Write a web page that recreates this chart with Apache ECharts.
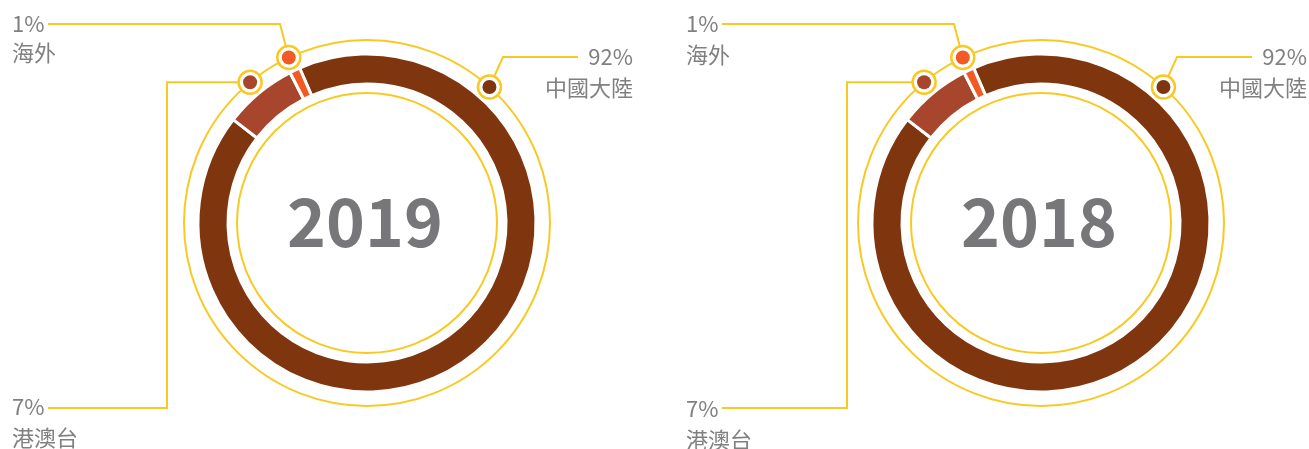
<!DOCTYPE html>
<html>
<head>
<meta charset="utf-8">
<script src="https://cdn.jsdelivr.net/npm/echarts@6/dist/echarts.min.js"></script>
<style>html,body{margin:0;padding:0;background:#fff}#c{width:1309px;height:449px}</style>
</head>
<body>
<div id="c"></div>
<script>
const categories = ['中國大陸', '港澳台', '海外'];
const years = ['2019', '2018'];
const values2019 = [92, 7, 1];
const values2018 = [92, 7, 1];

const colors = ['#7f360e', '#a7462c', '#f15a24'];
const yellow = '#f9c923';
const gray = '#808080';
const cjk = '"Noto Sans CJK TC", "Noto Sans", sans-serif';

const chart = echarts.init(document.getElementById('c'));

const layouts = [
  { cx: 367, cy: 223, dx: 0, dy: 0, vx: 167 },
  { cx: 1041, cy: 223, dx: 674, dy: 2, vx: 847 }
];
const startAngle = 113.5;
const rIn = 139, rOut = 169, rYIn = 130, rYOut = 183;
const mainlandAngle = 48;

const series = [];
const graphic = [];

[values2019, values2018].forEach((vals, k) => {
  const L = layouts[k];
  series.push({
    type: 'pie',
    center: [L.cx, L.cy],
    radius: [rIn, rOut],
    startAngle: startAngle,
    clockwise: true,
    silent: true,
    animation: false,
    label: { show: false },
    labelLine: { show: false },
    itemStyle: { borderColor: '#fff', borderWidth: 3 },
    data: categories.map((n, i) => ({ name: n, value: vals[i], itemStyle: { color: colors[i] } }))
  });

  [rYIn, rYOut].forEach(r => graphic.push({
    type: 'circle', z: 1, silent: true,
    shape: { cx: L.cx, cy: L.cy, r: r },
    style: { fill: null, stroke: yellow, lineWidth: 2 }
  }));

  graphic.push({
    type: 'text', z: 5, x: L.cx - 2, y: L.cy - 1,
    style: { text: years[k], fill: '#77777a', font: 'bold 66px ' + cjk, textAlign: 'center', textVerticalAlign: 'middle' }
  });

  const total = vals.reduce((a, b) => a + b, 0);
  let cum = 0;
  const angles = vals.map(v => { const a = startAngle - (cum + v / 2) * 360 / total; cum += v; return a; });
  angles[0] = mainlandAngle;
  const pos = angles.map(a => {
    const t = a * Math.PI / 180;
    return [L.cx + rYOut * Math.cos(t), L.cy - rYOut * Math.sin(t)];
  });

  const ox = L.dx;
  const lines = [
    [[ox + 503, 57], [ox + 578, 57]],
    [[L.vx, pos[1][1]], [L.vx, 408], [ox + 48, 408]],
    [[ox + 280, 24], [ox + 48, 24]]
  ];
  lines.forEach((pts, i) => {
    graphic.push({
      type: 'polyline', z: 2, silent: true,
      shape: { points: [pos[i]].concat(pts) },
      style: { fill: null, stroke: yellow, lineWidth: 2 }
    });
  });

  pos.forEach((p, i) => {
    graphic.push({ type: 'circle', z: 3, shape: { cx: p[0], cy: p[1], r: 11.5 }, style: { fill: '#fff', stroke: yellow, lineWidth: 2.5 } });
    graphic.push({ type: 'circle', z: 4, shape: { cx: p[0], cy: p[1], r: 7 }, style: { fill: colors[i] } });
  });

  const tf = '22px ' + cjk;
  const labels = [
    { x: ox + 633, y1: 57, y2: 88, align: 'right' },
    { x: ox + 12, y1: 407 + L.dy, y2: 438 + L.dy, align: 'left' },
    { x: ox + 12, y1: 24, y2: 53 + L.dy, align: 'left' }
  ];
  labels.forEach((lb, i) => {
    graphic.push({ type: 'text', z: 5, x: lb.x, y: lb.y1, style: { text: vals[i] + '%', fill: gray, font: tf, textAlign: lb.align, textVerticalAlign: 'middle' } });
    graphic.push({ type: 'text', z: 5, x: lb.x, y: lb.y2, style: { text: categories[i], fill: gray, font: tf, textAlign: lb.align, textVerticalAlign: 'middle' } });
  });
});

chart.setOption({
  animation: false,
  backgroundColor: '#fff',
  series: series,
  graphic: graphic
});
</script>
</body>
</html>
